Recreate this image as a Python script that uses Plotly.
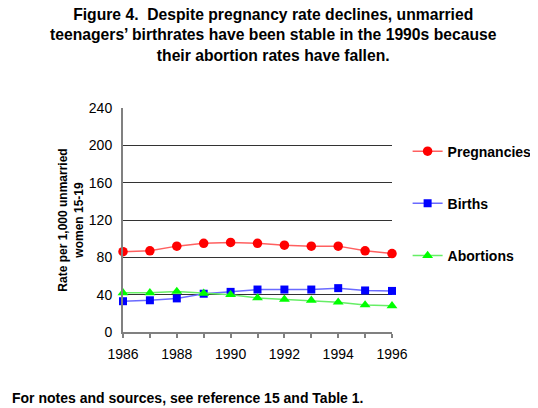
import plotly.graph_objects as go

years = [1986, 1987, 1988, 1989, 1990, 1991, 1992, 1993, 1994, 1995, 1996]
pregnancies = [86, 87, 92, 95, 96, 95, 93, 92, 92, 87, 84]
births = [33, 34, 36, 41, 43, 45.5, 45.5, 45.5, 47, 44.5, 44]
abortions = [42, 42, 43.5, 41.5, 40, 36.5, 35, 34, 32, 29, 28]

series = [
    ("Pregnancies", pregnancies, "circle", "#ff0000", "#ff6060", 9.5),
    ("Births", births, "square", "#0000ff", "#6a6aff", 8),
    ("Abortions", abortions, "triangle-up", "#00ff00", "#66ee66", 9.5),
]

fig = go.Figure()
for name, vals, sym, mcol, lcol, size in series:
    fig.add_trace(go.Scatter(
        x=years, y=vals, name=name, mode="lines+markers",
        line=dict(color=lcol, width=1.5),
        marker=dict(symbol=sym, size=size, color=mcol),
        legendgroup=name, cliponaxis=False,
    ))

# the page body has an 8px margin, so the figure is 8px smaller than the window
fig.update_layout(
    width=530, height=400,
    margin=dict(l=115, r=146, t=100, b=76, autoexpand=False),
    paper_bgcolor="white", plot_bgcolor="white",
    font=dict(family="Liberation Sans, Arial", color="black"),
    showlegend=True,
    legend=dict(
        xref="container", x=0.754, y=0.877, xanchor="left", yanchor="top",
        font=dict(size=14, weight="bold"), tracegroupgap=31,
        bgcolor="rgba(0,0,0,0)",
    ),
    xaxis=dict(
        range=[1986, 1996], tickmode="array", tickvals=years,
        ticktext=[str(y) if y % 2 == 0 else "" for y in years],
        ticks="outside", ticklen=4, tickcolor="#808080", tickwidth=1.5,
        showline=True, linecolor="#808080", linewidth=2,
        showgrid=False, zeroline=False,
        tickfont=dict(size=14), ticklabelstandoff=4,
    ),
    yaxis=dict(
        range=[0, 240], dtick=40, showgrid=True, gridcolor="#333333", gridwidth=1,
        showline=True, linecolor="#808080", linewidth=2,
        ticks="", zeroline=False,
        tickfont=dict(size=14), ticklabelstandoff=6,
        title=dict(text="<b>Rate per 1,000 unmarried<br>women 15-19</b>",
                   font=dict(size=12), standoff=3),
    ),
    annotations=[
        dict(
            text="<b>Figure 4.  Despite pregnancy rate declines, unmarried<br>"
                 "teenagers’ birthrates have been stable in the 1990s because<br>"
                 "their abortion rates have fallen.</b>",
            xref="paper", yref="paper", x=0.56, y=1.325, xanchor="center", yanchor="middle",
            showarrow=False, font=dict(size=15.7),
        ),
        dict(
            text="<b>For notes and sources, see reference 15 and Table 1.</b>",
            xref="paper", yref="paper", x=-0.42, y=-0.295, xanchor="left", yanchor="middle",
            showarrow=False, font=dict(size=14),
        ),
    ],
)

fig.write_html("out.html")
